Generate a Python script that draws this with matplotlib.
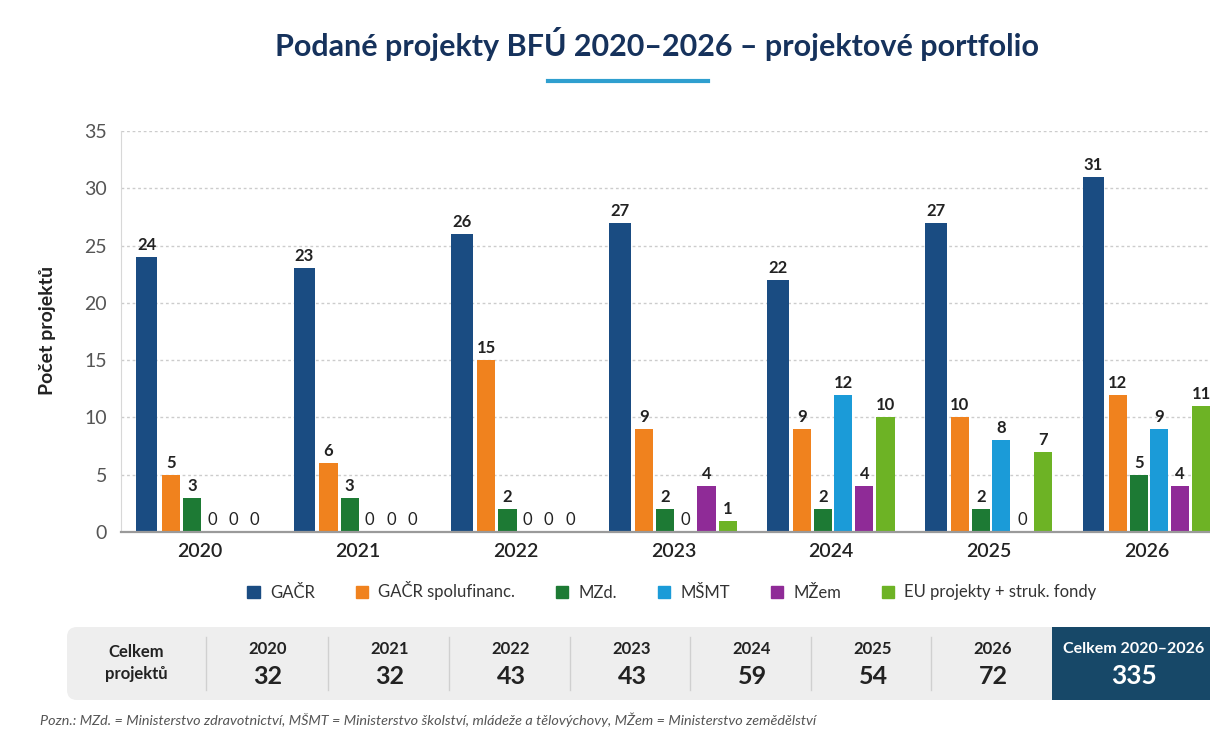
"""
Podané projekty BFÚ 2020-2026 - grouped bars with a totals strip underneath.
Writes out.png (1210x729).
"""

import numpy as np
import matplotlib
matplotlib.use("Agg")
import matplotlib.pyplot as plt
from matplotlib.lines import Line2D
from matplotlib.patches import Patch, FancyBboxPatch, Rectangle

years = ["2020", "2021", "2022", "2023", "2024", "2025", "2026"]
series = ["GAČR", "GAČR spolufinanc.", "MZd.", "MŠMT", "MŽem",
          "EU projekty + struk. fondy"]
gacr = [24, 23, 26, 27, 22, 27, 31]
gacr_spolu = [5, 6, 15, 9, 9, 10, 12]
mzd = [3, 3, 2, 2, 2, 2, 5]
msmt = [0, 0, 0, 0, 12, 8, 9]
mzem = [0, 0, 0, 4, 4, 0, 4]
eu = [0, 0, 0, 1, 10, 7, 11]

colors = ["#1a4c82", "#f0821e", "#1d7a34", "#1b9bd8", "#8f2b97", "#6db325"]
NAVY = "#16325c"

plt.rcParams["font.family"] = ["Lato", "DejaVu Sans"]

W, H = 1210, 729
fig = plt.figure(figsize=(W / 100, H / 100), dpi=100)
fig.patch.set_facecolor("white")

# overlay in pixel coords for title, table strip and footnote
ov = fig.add_axes([0, 0, 1, 1])
ov.set_xlim(0, W)
ov.set_ylim(H, 0)
ov.axis("off")

ax = fig.add_axes([121 / W, 1 - 532 / H, (W - 121) / W, (532 - 131) / H])

values = [gacr, gacr_spolu, mzd, msmt, mzem, eu]
offsets = [-0.338, -0.185, -0.051, 0.076, 0.21, 0.344]
widths = [0.137, 0.115, 0.115, 0.115, 0.115, 0.115]
x = np.arange(len(years))
for vals, off, w, c, name in zip(values, offsets, widths, colors, series):
    xs = x + off
    ax.bar(xs, vals, width=w, color=c, label=name, zorder=2)
    for xi, v in zip(xs, vals):
        ax.text(xi, v + 0.35, str(v), ha="center", va="bottom", fontsize=12,
                fontweight="bold" if v else "normal", color="#222222")

ax.set_xlim(-0.5, 6.40)
ax.set_ylim(0, 35)
ax.set_yticks(range(0, 36, 5))
ax.set_xticks(x)
ax.set_xticklabels(years, fontsize=14, color="#222222", fontweight="semibold")
ax.tick_params(axis="y", length=0, pad=10, labelsize=14, labelcolor="#555555")
ax.tick_params(axis="x", length=0, pad=8)
ax.grid(axis="y", ls=(0, (2, 2)), color="#cccccc", lw=1, zorder=0)
ax.set_axisbelow(True)
for s in ["top", "right"]:
    ax.spines[s].set_visible(False)
ax.spines["left"].set_color("#d8d8d8")
ax.spines["bottom"].set_color("#9a9a9a")
ax.spines["bottom"].set_linewidth(1.6)

fig.text(47 / W, 1 - 330 / H, "Počet projektů", rotation=90, ha="center",
         va="center", fontsize=14, fontweight="bold", color="#222222")

# title + accent line
ov.text(657, 44, "Podané projekty BFÚ 2020–2026 – projektové portfolio",
        ha="center", va="center", fontsize=22, fontweight="bold", color=NAVY)
ov.add_line(Line2D([548, 708], [81, 81], color="#2f9fcf", lw=3))

handles = [Patch(color=c, label=n) for c, n in zip(colors, series)]
leg = fig.legend(handles=handles, loc="center", bbox_to_anchor=(672 / W, 1 - 591 / H),
                 ncol=6, frameon=False, fontsize=12, handlelength=0.75,
                 handleheight=0.75, handletextpad=0.6, columnspacing=2.45)
for t in leg.get_texts():
    t.set_color("#333333")

# totals strip
totals = [sum(v) for v in zip(*values)]
ov.add_patch(FancyBboxPatch((67, 627), 1200, 73,
                            boxstyle="round,pad=0,rounding_size=10",
                            fc="#eeeeee", ec="none"))
ov.add_patch(Rectangle((1052, 627), 170, 73, fc="#174868", ec="none"))
ov.text(136, 663, "Celkem\nprojektů", ha="center", va="center", fontsize=12,
        fontweight="bold", color="#222222", linespacing=1.4)
col_x = [268, 390, 511, 632, 752, 873, 993]
for cx, yr, tot in zip(col_x, years, totals):
    ov.add_line(Line2D([cx - 62, cx - 62], [637, 690], color="#d0d0d0", lw=1))
    ov.text(cx, 649, yr, ha="center", va="center", fontsize=12,
            fontweight="bold", color="#222222")
    ov.text(cx, 676, str(tot), ha="center", va="center", fontsize=18,
            fontweight="bold", color="#222222")
ov.text(1134, 649, "Celkem 2020–2026", ha="center", va="center", fontsize=11.5,
        fontweight="bold", color="white")
ov.text(1134, 676, str(sum(totals)), ha="center", va="center", fontsize=19,
        fontweight="bold", color="white")

ov.text(40, 720, "Pozn.: MZd. = Ministerstvo zdravotnictví, MŠMT = Ministerstvo "
        "školství, mládeže a tělovýchovy, MŽem = Ministerstvo zemědělství",
        ha="left", va="center", fontsize=10.4, style="italic", color="#555555")

fig.savefig("out.png", dpi=100)
